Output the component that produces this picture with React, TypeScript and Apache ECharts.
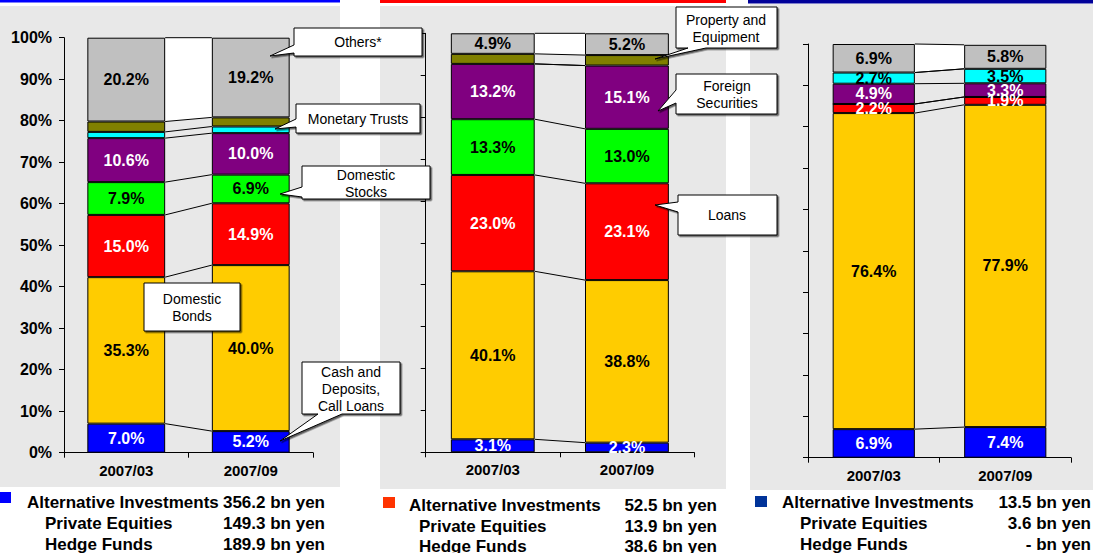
import React, { useEffect, useRef } from "react";
import * as echarts from "echarts";

const FONT = '"Liberation Sans", Arial, Helvetica, sans-serif';

const categories = ["2007/03", "2007/09"];

// Panel 1 (blue banner)
const p1Cash = [7.0, 5.2];
const p1Bonds = [35.3, 40.0];
const p1Red = [15.0, 14.9];
const p1Stocks = [7.9, 6.9];
const p1Purple = [10.6, 10.0];
const p1Trusts = [1.5, 1.6];
const p1Property = [2.5, 2.2];
const p1Others = [20.2, 19.2];

// Panel 2 (red banner)
const p2Cash = [3.1, 2.3];
const p2Bonds = [40.1, 38.8];
const p2Loans = [23.0, 23.1];
const p2Stocks = [13.3, 13.0];
const p2Foreign = [13.2, 15.1];
const p2Trusts: any[] = ["-", "-"];
const p2Property = [2.4, 2.5];
const p2Others = [4.9, 5.2];

// Panel 3 (navy banner)
const p3Cash = [6.9, 7.4];
const p3Bonds = [76.4, 77.9];
const p3Red = [2.2, 1.9];
const p3Green = [0, 0];
const p3Purple = [4.9, 3.3];
const p3Cyan = [2.7, 3.5];
const p3Olive: any[] = ["-", "-"];
const p3Others = [6.9, 5.8];

const yTicksMin = 0;
const yTicksMax = 100;
const yTicksStep = 10;

const segColors = ["#0000ff", "#ffcc00", "#ff0000", "#00ff00", "#800080", "#00ffff", "#808000", "#c0c0c0"];
const segLabelColors = ["#fff", "#000", "#fff", "#000", "#fff", "#000", "#000", "#000"];
const segNames = ["Cash and Deposits, Call Loans", "Domestic Bonds", "Loans", "Domestic Stocks", "Foreign Securities", "Monetary Trusts", "Property and Equipment", "Others"];

const panels = [
  { data: [p1Cash, p1Bonds, p1Red, p1Stocks, p1Purple, p1Trusts, p1Property, p1Others], labels: [1, 1, 1, 1, 1, 0, 0, 1] },
  { data: [p2Cash, p2Bonds, p2Loans, p2Stocks, p2Foreign, p2Trusts, p2Property, p2Others], labels: [1, 1, 1, 1, 1, 0, 0, 1] },
  { data: [p3Cash, p3Bonds, p3Red, p3Green, p3Purple, p3Cyan, p3Olive, p3Others], labels: [1, 1, 1, 0, 1, 1, 0, 1] },
];

const grids = [
  { left: 64, top: 37.7, width: 249, height: 415 },
  { left: 425.7, top: 33.3, width: 268.3, height: 419 },
  { left: 808, top: 44, width: 263, height: 413.7 },
];

const BAR_FRAC = 0.625;

function num(v: any) {
  return typeof v === "number" ? v : 0;
}

function lineRender(params: any, api: any) {
  const p0 = api.coord([0, api.value(1)]);
  const p1 = api.coord([1, api.value(2)]);
  const bw = api.size([1, 0])[0] * BAR_FRAC;
  return {
    type: "line",
    shape: { x1: p0[0] + bw / 2, y1: p0[1], x2: p1[0] - bw / 2, y2: p1[1] },
    style: { stroke: "#000", lineWidth: 1 },
  };
}

function fillRender(params: any, api: any) {
  const a0 = api.coord([0, api.value(1)]);
  const a1 = api.coord([1, api.value(2)]);
  const b0 = api.coord([0, api.value(3)]);
  const b1 = api.coord([1, api.value(4)]);
  const bw = api.size([1, 0])[0] * BAR_FRAC;
  return {
    type: "polygon",
    shape: {
      points: [
        [a0[0] + bw / 2, a0[1]],
        [a1[0] - bw / 2, a1[1]],
        [b1[0] - bw / 2, b1[1]],
        [b0[0] + bw / 2, b0[1]],
      ],
    },
    style: { fill: "#ffffff", stroke: "none" },
  };
}

function callout(points: number[][], text: string, cx: number, cy: number) {
  return [
    {
      type: "polygon",
      z: 50,
      shape: { points },
      style: { fill: "#fff", stroke: "#000", lineWidth: 1, shadowColor: "rgba(0,0,0,0.6)", shadowOffsetX: 1.5, shadowOffsetY: 1.5, shadowBlur: 0 },
    },
    {
      type: "text",
      z: 51,
      x: cx,
      y: cy,
      style: {
        text,
        font: `14px ${FONT}`,
        fill: "#000",
        align: "center",
        verticalAlign: "middle",
        textAlign: "center",
        textVerticalAlign: "middle",
        lineHeight: 17,
      },
    },
  ];
}

function txt(x: number, y: number, text: string, align: string) {
  return {
    type: "text",
    z: 20,
    x,
    y,
    style: {
      text,
      font: `bold 17px ${FONT}`,
      fill: "#000",
      align,
      verticalAlign: "middle",
      textAlign: align,
      textVerticalAlign: "middle",
    },
  };
}

const altLabel = "Alternative Investments";
const peLabel = "Private Equities";
const hfLabel = "Hedge Funds";
const altValues = ["356.2 bn yen", "52.5 bn yen", "13.5 bn yen"];
const peValues = ["149.3 bn yen", "13.9 bn yen", "3.6 bn yen"];
const hfValues = ["189.9 bn yen", "38.6 bn yen", "- bn yen"];

export default function App() {
  const ref = useRef<HTMLDivElement>(null);

  useEffect(() => {
    if (!ref.current) return;
    const chart = echarts.init(ref.current, undefined, { renderer: "svg" });

    const series: any[] = [];
    panels.forEach((pn, i) => {
      pn.data.forEach((arr, k) => {
        series.push({
          type: "bar",
          name: segNames[k],
          stack: "p" + i,
          xAxisIndex: i,
          yAxisIndex: i,
          barWidth: BAR_FRAC * 100 + "%",
          data: arr,
          z: 2,
          itemStyle: { color: segColors[k], borderColor: "#000", borderWidth: 1 },
          label: {
            show: !!pn.labels[k],
            position: "inside",
            formatter: (p: any) => (typeof p.value === "number" ? p.value.toFixed(1) + "%" : ""),
            color: segLabelColors[k],
            fontSize: 16,
            fontWeight: "bold",
            fontFamily: FONT,
          },
        });
      });
      // cumulative boundaries
      const cum0: number[] = [];
      const cum1: number[] = [];
      let s0 = 0;
      let s1 = 0;
      pn.data.forEach((arr) => {
        s0 += num(arr[0]);
        s1 += num(arr[1]);
        cum0.push(Math.round(s0 * 100) / 100);
        cum1.push(Math.round(s1 * 100) / 100);
      });
      const n = cum0.length;
      series.push({
        type: "custom",
        xAxisIndex: i,
        yAxisIndex: i,
        silent: true,
        z: 1,
        renderItem: fillRender,
        encode: { x: 0, y: [1, 2, 3, 4] },
        data: [[0, cum0[n - 2], cum1[n - 2], cum0[n - 1], cum1[n - 1]]],
      });
      series.push({
        type: "custom",
        xAxisIndex: i,
        yAxisIndex: i,
        silent: true,
        z: 3,
        renderItem: lineRender,
        encode: { x: 0, y: [1, 2] },
        data: cum0.map((c, k) => [0, c, cum1[k]]),
      });
    });

    const graphic: any[] = [
      // panel backgrounds
      { type: "rect", z: -10, shape: { x: 0, y: 6, width: 340, height: 481 }, style: { fill: "#e8e8e8" } },
      { type: "rect", z: -10, shape: { x: 380, y: 6, width: 346, height: 483 }, style: { fill: "#e8e8e8" } },
      { type: "rect", z: -10, shape: { x: 750, y: 4, width: 343, height: 486 }, style: { fill: "#e8e8e8" } },
      // banners
      { type: "rect", z: -5, shape: { x: 0, y: 0, width: 340, height: 2.5 }, style: { fill: "#0000ff" } },
      { type: "rect", z: -5, shape: { x: 380, y: 0, width: 346, height: 3 }, style: { fill: "#ff0000" } },
      { type: "rect", z: -5, shape: { x: 748, y: 0, width: 345, height: 3.5 }, style: { fill: "#000099" } },
      // callouts
      ...callout([[294, 28], [422, 28], [422, 56], [294, 56], [294, 53], [270, 56], [294, 45]], "Others*", 358, 42),
      ...callout([[296, 104], [420, 104], [420, 133], [296, 133], [296, 127], [275, 129], [296, 119]], "Monetary Trusts", 358, 119),
      ...callout([[302, 166], [430, 166], [430, 199], [302, 199], [302, 197], [280, 194], [302, 187]], "Domestic\nStocks", 366, 183),
      ...callout([[144, 283], [240, 283], [240, 331], [144, 331]], "Domestic\nBonds", 192, 307),
      ...callout([[302, 362], [400, 362], [400, 414], [342, 414], [280, 441], [318, 414], [302, 414]], "Cash and\nDeposits,\nCall Loans", 351, 388.5),
      ...callout([[676, 7], [777, 7], [777, 48], [706, 48], [655, 59], [688, 48], [676, 48]], "Property and\nEquipment", 726, 28),
      ...callout([[676, 74], [777, 74], [777, 114], [676, 114], [676, 103], [658, 111], [676, 90]], "Foreign\nSecurities", 727, 94.5),
      ...callout([[678, 195], [777, 195], [777, 235], [678, 235], [678, 212], [655, 205], [678, 202]], "Loans", 727, 215),
      // bottom notes
      { type: "rect", z: 20, shape: { x: 0, y: 492, width: 11, height: 11 }, style: { fill: "#0000ff" } },
      { type: "rect", z: 20, shape: { x: 383, y: 497, width: 12, height: 11 }, style: { fill: "#ff3300" } },
      { type: "rect", z: 20, shape: { x: 755, y: 496, width: 12, height: 11 }, style: { fill: "#003399" } },
      txt(27, 502, altLabel, "left"),
      txt(45, 523, peLabel, "left"),
      txt(45, 544, hfLabel, "left"),
      txt(325, 502, altValues[0], "right"),
      txt(325, 523, peValues[0], "right"),
      txt(325, 544, hfValues[0], "right"),
      txt(409, 505, altLabel, "left"),
      txt(419, 526, peLabel, "left"),
      txt(419, 546, hfLabel, "left"),
      txt(717, 505, altValues[1], "right"),
      txt(717, 526, peValues[1], "right"),
      txt(717, 546, hfValues[1], "right"),
      txt(782, 502, altLabel, "left"),
      txt(800, 523, peLabel, "left"),
      txt(800, 544, hfLabel, "left"),
      txt(1091, 502, altValues[2], "right"),
      txt(1091, 523, peValues[2], "right"),
      txt(1091, 544, hfValues[2], "right"),
    ];

    chart.setOption({
      animation: false,
      grid: grids.map((g) => ({ ...g, containLabel: false })),
      xAxis: grids.map((g, i) => ({
        type: "category",
        gridIndex: i,
        data: categories,
        boundaryGap: true,
        axisLine: { show: true, lineStyle: { color: "#000", width: 1 } },
        axisTick: { show: true, length: 5, lineStyle: { color: "#000" } },
        axisLabel: { color: "#000", fontSize: 15, fontWeight: "bold", fontFamily: FONT, margin: 10 },
        splitLine: { show: false },
      })),
      yAxis: grids.map((g, i) => ({
        type: "value",
        gridIndex: i,
        min: yTicksMin,
        max: yTicksMax,
        interval: yTicksStep,
        axisLine: { show: true, lineStyle: { color: "#000", width: 1 } },
        axisTick: { show: true, length: 5, lineStyle: { color: "#000" } },
        axisLabel: { show: i === 0, formatter: "{value}%", color: "#000", fontSize: 16, fontWeight: "bold", fontFamily: FONT, margin: 12 },
        splitLine: { show: false },
      })),
      series,
      graphic,
    });

    return () => chart.dispose();
  }, []);

  return <div ref={ref} style={{ position: "absolute", left: 0, top: 0, width: 1093, height: 553 }} />;
}
